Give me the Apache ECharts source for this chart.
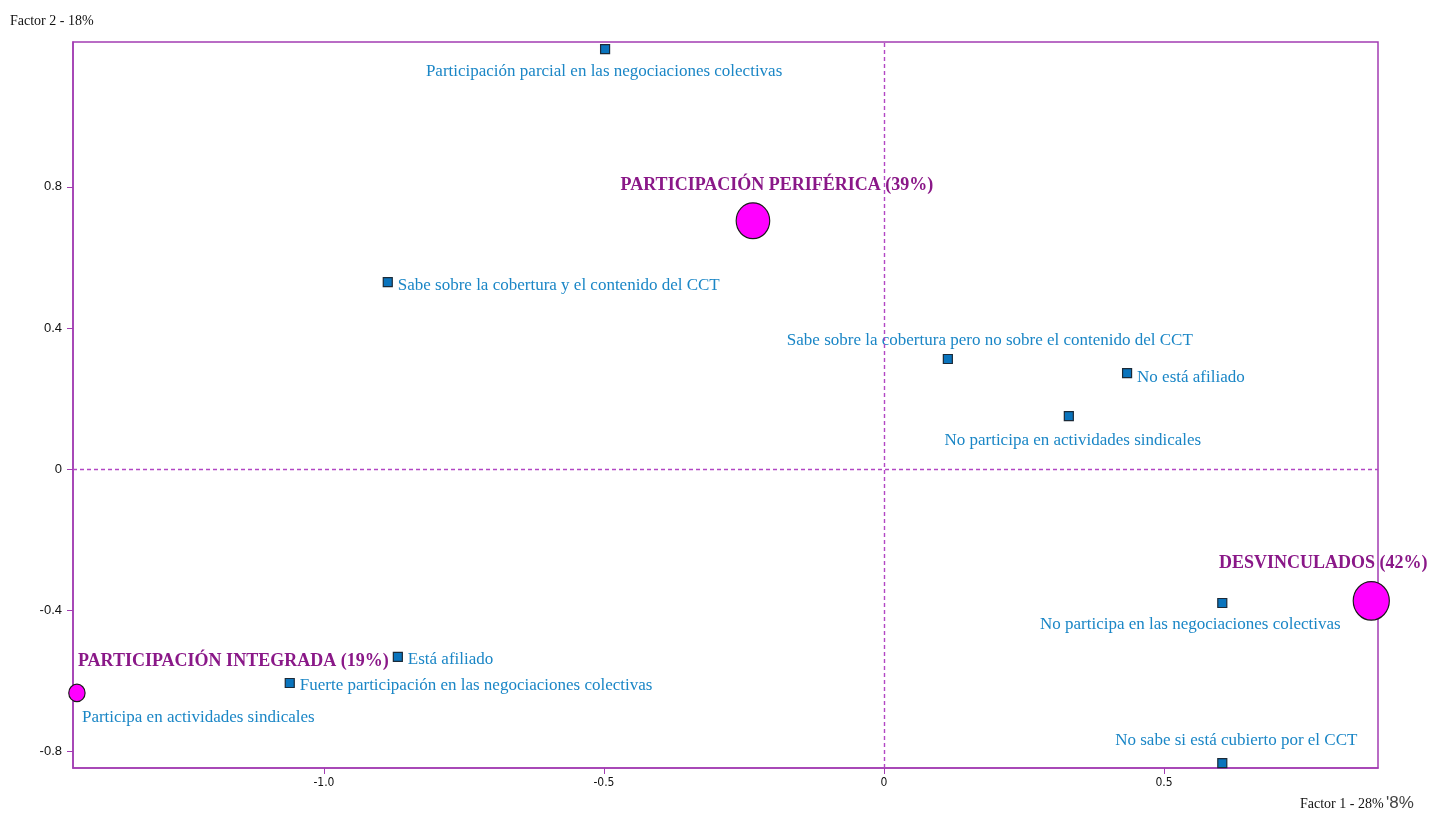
<!DOCTYPE html>
<html>
<head>
<meta charset="utf-8">
<title>Análisis de correspondencias</title>
<script src="https://cdn.jsdelivr.net/npm/echarts@6/dist/echarts.min.js"></script>
<style>
  html, body { margin: 0; padding: 0; background: #ffffff; }
  #chart { width: 1431px; height: 814px; }
</style>
</head>
<body>
<div id="chart"></div>
<script>
// Modalidades (puntos activos)
const pointNames = [
  'Participación parcial en las negociaciones colectivas',
  'Sabe sobre la cobertura y el contenido del CCT',
  'Sabe sobre la cobertura pero no sobre el contenido del CCT',
  'No está afiliado',
  'No participa en actividades sindicales',
  'No participa en las negociaciones colectivas',
  'No sabe si está cubierto por el CCT',
  'Está afiliado',
  'Fuerte participación en las negociaciones colectivas',
  'Participa en actividades sindicales'
];
const pointX = [-0.498, -0.886, 0.114, 0.434, 0.330, 0.604, 0.604, -0.868, -1.061, -1.441];
const pointY = [1.191, 0.530, 0.312, 0.272, 0.150, -0.380, -0.834, -0.533, -0.607, -0.635];

// Clases (centros de grupo) y su peso en %
const groupNames = ['PARTICIPACIÓN PERIFÉRICA', 'DESVINCULADOS', 'PARTICIPACIÓN INTEGRADA'];
const groupX = [-0.234, 0.870, -1.441];
const groupY = [0.704, -0.374, -0.635];
const groupShare = [39, 42, 19];

// Ejes
const xTicks = [-1.0, -0.5, 0, 0.5];
const yTicks = [-0.8, -0.4, 0, 0.4, 0.8];
const xTitle = 'Factor 1 - 28%';
const yTitle = 'Factor 2 - 18%';

// Label placement for each point: [dx, dy, align]
const pointLabelPlace = [
  [-1, 22, 'center'],
  [10, 3, 'left'],
  [42, -18, 'center'],
  [10, 4, 'left'],
  [4, 24, 'center'],
  [-32, 22, 'center'],
  [14, -23, 'center'],
  [10, 3, 'left'],
  [10, 3, 'left'],
  [5, 25, 'left']
];
const groupLabelPlace = [
  [24, -35, 'center'],
  [-48, -38, 'center'],
  [1, -32, 'left']
];

const FRAME = '#a23cb2';
const ZERO_LINE = '#b247c4';
const SERIF = '"Liberation Serif", "DejaVu Serif", serif';

const pointData = pointNames.map((n, i) => ({
  name: n,
  value: [pointX[i], pointY[i]],
  label: {
    show: true,
    position: 'inside',
    formatter: n,
    align: pointLabelPlace[i][2],
    verticalAlign: 'middle',
    offset: [pointLabelPlace[i][0], pointLabelPlace[i][1]]
  }
}));

const groupData = groupNames.map((n, i) => ({
  name: n,
  value: [groupX[i], groupY[i]],
  symbolSize: [groupShare[i] * 0.86, groupShare[i] * 0.92],
  label: {
    show: true,
    position: 'inside',
    formatter: n + ' (' + groupShare[i] + '%)',
    align: groupLabelPlace[i][2],
    verticalAlign: 'middle',
    offset: [groupLabelPlace[i][0], groupLabelPlace[i][1]]
  }
}));

const chart = echarts.init(document.getElementById('chart'), null, { renderer: 'canvas' });

chart.setOption({
  animation: false,
  backgroundColor: '#ffffff',
  grid: {
    left: 73, right: 53, top: 42, bottom: 46,
    show: true,
    borderColor: FRAME,
    borderWidth: 1.5,
    backgroundColor: 'transparent'
  },
  xAxis: {
    type: 'value',
    min: -1.448,
    max: 0.882,
    axisLine: { show: true, onZero: false, lineStyle: { color: FRAME, width: 1.5 } },
    splitLine: { show: false },
    axisTick: { show: true, customValues: xTicks, length: 6, lineStyle: { color: FRAME } },
    axisLabel: {
      customValues: xTicks,
      color: '#111',
      fontSize: 12,
      fontFamily: '"Liberation Sans Narrow", "DejaVu Sans Condensed", "Liberation Sans", sans-serif',
      margin: 9,
      formatter: v => (v === 0 ? '0' : v.toFixed(1))
    }
  },
  yAxis: {
    type: 'value',
    min: -0.848,
    max: 1.211,
    axisLine: { show: true, onZero: false, lineStyle: { color: FRAME, width: 1.5 } },
    splitLine: { show: false },
    axisTick: { show: true, customValues: yTicks, length: 6, lineStyle: { color: FRAME } },
    axisLabel: {
      customValues: yTicks,
      color: '#111',
      fontSize: 13,
      fontFamily: '"Liberation Sans", Arial, sans-serif',
      margin: 11,
      formatter: v => (v === 0 ? '0' : v.toFixed(1))
    }
  },
  graphic: [
    {
      type: 'text', left: 10, top: 14,
      style: { text: yTitle, fontFamily: SERIF, fontSize: 14, fill: '#111' }
    },
    {
      type: 'text', left: 1300, top: 797,
      style: { text: xTitle, fontFamily: SERIF, fontSize: 14, fill: '#111' }
    },
    {
      type: 'text', left: 1386, top: 795,
      style: { text: "'8%", fontFamily: '"Liberation Sans", Arial, sans-serif', fontSize: 17, fill: '#444' }
    }
  ],
  series: [
    {
      // Ejes de referencia en el origen
      name: 'Origen',
      type: 'scatter',
      data: [],
      silent: true,
      z: 1,
      markLine: {
        silent: true,
        symbol: 'none',
        label: { show: false },
        lineStyle: { color: ZERO_LINE, type: [4, 3], width: 1.4, opacity: 1 },
        data: [
          { xAxis: 0, lineStyle: { color: ZERO_LINE } },
          { yAxis: 0, lineStyle: { color: ZERO_LINE } }
        ]
      }
    },
    {
      name: 'Modalidades',
      type: 'scatter',
      symbol: 'rect',
      symbolSize: 9,
      z: 3,
      itemStyle: { color: '#0a74bd', borderColor: '#1b2a38', borderWidth: 1.2, opacity: 1 },
      label: {
        color: '#1a86c6',
        fontFamily: SERIF,
        fontSize: 17
      },
      data: pointData
    },
    {
      name: 'Clases',
      type: 'scatter',
      symbol: 'circle',
      z: 4,
      itemStyle: { color: '#ff00ff', borderColor: '#1a1a1a', borderWidth: 1.2, opacity: 1 },
      label: {
        color: '#8a1888',
        fontFamily: SERIF,
        fontWeight: 'bold',
        fontSize: 18
      },
      data: groupData
    }
  ]
});
</script>
</body>
</html>
